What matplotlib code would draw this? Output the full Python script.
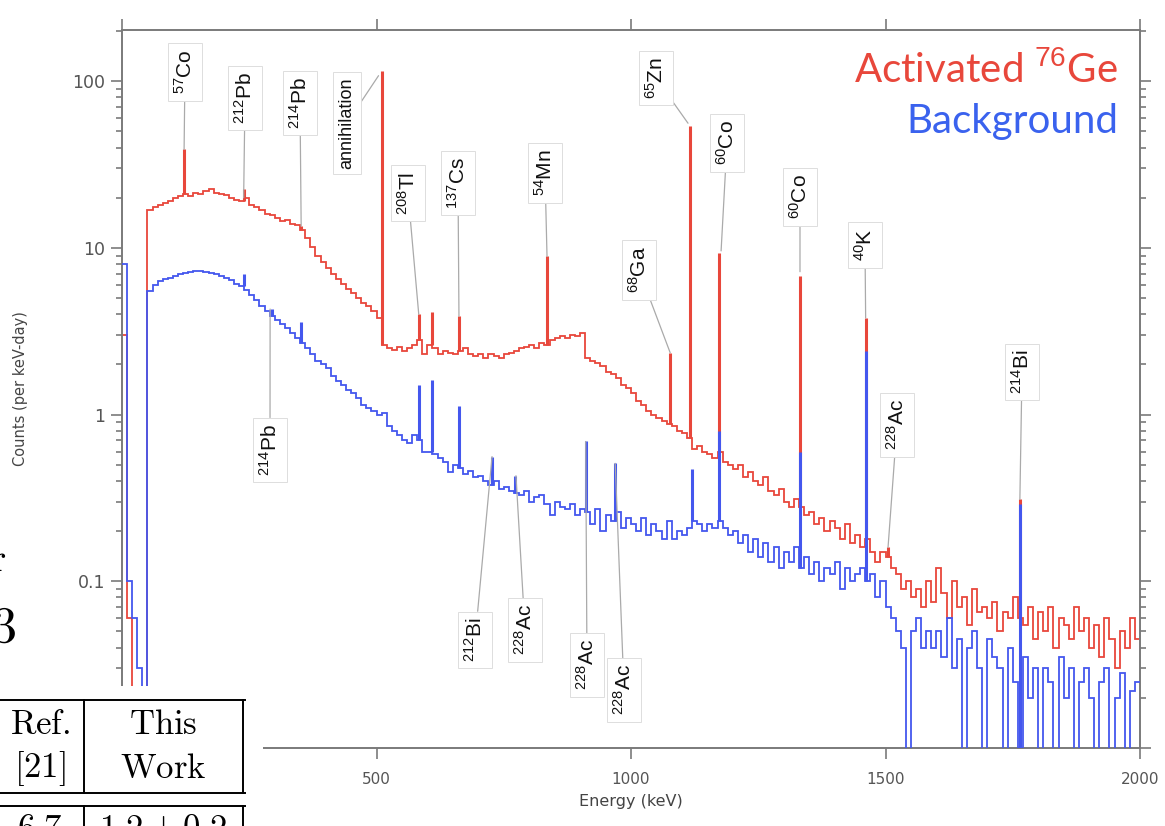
import numpy as np
import matplotlib.pyplot as plt
from matplotlib.ticker import FixedLocator, LogLocator, NullFormatter, FuncFormatter

plt.rcParams['mathtext.fontset'] = 'custom'
plt.rcParams['mathtext.rm'] = 'Liberation Sans'
plt.rcParams['mathtext.it'] = 'Liberation Sans'

# 10 keV bins, bin starts 0 ... 1990
edges = np.arange(0, 2010, 10)

# continuum, activated 76Ge (counts per keV-day)
activated = [
    3.0, 0.06, 0, 0, 0, 17.0, 17.5, 18.0, 18.5, 19.0,
    19.8, 20.5, 21.0, 20.5, 21.5, 21.0, 22.0, 22.5, 21.5, 21.0,
    20.8, 20.0, 19.5, 19.2, 19.8, 18.0, 17.5, 16.8, 16.0, 15.8,
    15.2, 14.5, 14.8, 14.0, 13.8, 12.8, 11.5, 10.2, 9.0, 8.2,
    7.6, 7.0, 6.5, 6.1, 5.7, 5.4, 5.0, 4.7, 4.5, 4.2,
    3.8, 2.6, 2.5, 2.45, 2.55, 2.4, 2.5, 2.6, 2.8, 2.3,
    2.6, 2.5, 2.3, 2.4, 2.35, 2.3, 2.4, 2.5, 2.3, 2.25,
    2.3, 2.2, 2.3, 2.25, 2.2, 2.3, 2.35, 2.4, 2.5, 2.55,
    2.6, 2.5, 2.7, 2.6, 2.8, 2.9, 2.95, 2.9, 3.0, 2.95,
    3.1, 2.2, 2.1, 2.05, 1.95, 1.8, 1.75, 1.65, 1.5, 1.45,
    1.35, 1.2, 1.15, 1.05, 1.0, 0.95, 0.92, 0.88, 0.85, 0.8,
    0.78, 0.72, 0.62, 0.65, 0.6, 0.58, 0.55, 0.6, 0.52, 0.5,
    0.47, 0.5, 0.42, 0.45, 0.4, 0.38, 0.42, 0.35, 0.33, 0.36,
    0.3, 0.28, 0.31, 0.28, 0.25, 0.26, 0.22, 0.24, 0.2, 0.23,
    0.21, 0.18, 0.22, 0.17, 0.19, 0.16, 0.18, 0.15, 0.13, 0.15,
    0.14, 0.12, 0.11, 0.09, 0.1, 0.08, 0.09, 0.07, 0.1, 0.075,
    0.12, 0.085, 0.06, 0.1, 0.07, 0.08, 0.055, 0.09, 0.065, 0.07,
    0.06, 0.075, 0.05, 0.065, 0.06, 0.08, 0.06, 0.055, 0.07, 0.045,
    0.065, 0.05, 0.07, 0.04, 0.06, 0.055, 0.045, 0.07, 0.05, 0.06,
    0.04, 0.055, 0.035, 0.06, 0.045, 0.03, 0.05, 0.04, 0.06, 0.045,
]

# continuum, background
background = [
    8.0, 0.1, 0.06, 0.03, 0, 5.5, 6.0, 6.3, 6.5, 6.6,
    6.8, 7.0, 7.1, 7.2, 7.3, 7.3, 7.2, 7.1, 7.0, 6.8,
    6.6, 6.4, 6.1, 5.9, 5.6, 5.2, 4.9, 4.5, 4.2, 3.9,
    3.7, 3.5, 3.3, 3.1, 2.9, 2.7, 2.5, 2.3, 2.1, 2.0,
    1.9, 1.7, 1.6, 1.5, 1.4, 1.35, 1.25, 1.15, 1.1, 1.05,
    1.0, 1.02, 0.85, 0.8, 0.75, 0.7, 0.68, 0.75, 0.7, 0.6,
    0.6, 0.58, 0.55, 0.52, 0.45, 0.5, 0.48, 0.44, 0.46, 0.42,
    0.43, 0.4, 0.38, 0.4, 0.36, 0.37, 0.35, 0.34, 0.33, 0.35,
    0.3, 0.32, 0.33, 0.29, 0.25, 0.3, 0.28, 0.27, 0.29, 0.25,
    0.27, 0.26, 0.22, 0.27, 0.2, 0.25, 0.23, 0.26, 0.21, 0.24,
    0.22, 0.2, 0.24, 0.19, 0.22, 0.2, 0.18, 0.23, 0.18, 0.2,
    0.19, 0.21, 0.23, 0.22, 0.2, 0.22, 0.21, 0.23, 0.21, 0.19,
    0.2, 0.17, 0.19, 0.15, 0.18, 0.14, 0.17, 0.13, 0.16, 0.12,
    0.15, 0.13, 0.16, 0.12, 0.14, 0.11, 0.13, 0.1, 0.12, 0.11,
    0.13, 0.09, 0.12, 0.1, 0.11, 0.12, 0.1, 0.11, 0.08, 0.1,
    0.07, 0.06, 0.05, 0.04, 0, 0.05, 0.06, 0.04, 0.05, 0.04,
    0.05, 0.035, 0.06, 0.03, 0.045, 0, 0.04, 0.05, 0.03, 0,
    0.045, 0.035, 0.03, 0, 0.04, 0.025, 0, 0.035, 0.02, 0.03,
    0, 0.03, 0.025, 0, 0.035, 0.02, 0.03, 0, 0.025, 0.03,
    0.02, 0, 0.025, 0.03, 0, 0.02, 0.028, 0, 0.022, 0.025,
]

# narrow lines on top of the continuum: energy (keV), peak height
act_peak_e = [122, 239, 352, 511, 583, 609, 662, 835, 1077, 1115, 1173, 1332, 1461, 1505, 1764]
act_peak_h = [39, 22.5, 13.5, 116, 4.0, 4.1, 3.9, 8.9, 2.35, 54, 9.3, 6.8, 3.8, 0.16, 0.31]
bkg_peak_e = [239, 295, 352, 583, 609, 662, 727, 772, 911, 969, 1120, 1173, 1332, 1461, 1764]
bkg_peak_h = [7.0, 4.3, 3.6, 1.5, 1.62, 1.12, 0.56, 0.43, 0.69, 0.51, 0.47, 0.8, 0.6, 2.4, 0.29]

# line labels: mass number, element, tagged energy, tagged height
lbl_mass = ['57', '212', '214', '', '208', '137', '54', '65', '60', '68', '60', '40', '228', '214',
            '214', '212', '228', '228', '228']
lbl_elem = ['Co', 'Pb', 'Pb', 'annihilation', 'Tl', 'Cs', 'Mn', 'Zn', 'Co', 'Ga', 'Co', 'K', 'Ac', 'Bi',
            'Pb', 'Bi', 'Ac', 'Ac', 'Ac']
lbl_e = [122, 239, 352, 504, 583, 662, 835, 1112, 1177, 1077, 1332, 1461, 1505, 1764,
         291, 727, 774, 911, 969]
lbl_v = [39, 20, 13.5, 108, 4.0, 3.9, 8.9, 56, 9.6, 2.35, 7.2, 3.8, 0.16, 0.31,
         4.3, 0.56, 0.43, 0.69, 0.51]
# box centres in pixels of the page (x from left, y from top)
lbl_px = [(185, 72), (245, 98), (300, 103), (347, 123), (408, 193), (458, 183), (545, 173),
          (656, 78), (727, 143), (639, 270), (800, 197), (865, 245), (897, 425), (1022, 372),
          (270, 450), (475, 640), (525, 630), (587, 665), (624, 690)]

table_head = [('Ref.', '[21]'), ('This', 'Work')]
table_row = ['6.7', r'1.2\pm0.2']

red = '#e8473b'
blue = '#4457ee'
grey = '#7a7a7a'
W, H = 1165, 826

fig = plt.figure(figsize=(W / 100, H / 100), dpi=100)
ax = fig.add_axes([122 / W, 78 / H, 1018 / W, 718 / H])
ax.set_yscale('log')

ax.stairs(activated, edges, baseline=None, color=red, lw=1.3, zorder=2)
base = [activated[int(e // 10)] for e in act_peak_e]
ax.vlines(act_peak_e, base, act_peak_h, color=red, lw=2.2, zorder=2)

ax.stairs(background, edges, baseline=None, color=blue, lw=1.3, zorder=3)
base = [background[int(e // 10)] for e in bkg_peak_e]
ax.vlines(bkg_peak_e, base, bkg_peak_h, color=blue, lw=2.2, zorder=3)

ax.set_xlim(0, 2000)
ax.set_ylim(0.01, 203)

for s in ax.spines.values():
    s.set_color(grey)
    s.set_linewidth(1.4)
ax.xaxis.set_major_locator(FixedLocator([0, 500, 1000, 1500, 2000]))
ax.set_xticklabels(['', '500', '1000', '1500', '2000'])
ax.yaxis.set_major_locator(FixedLocator([0.01, 0.1, 1, 10, 100]))
ax.yaxis.set_minor_locator(LogLocator(base=10, subs=np.arange(2, 10)))
ax.yaxis.set_minor_formatter(NullFormatter())
ax.yaxis.set_major_formatter(FuncFormatter(lambda v, p: '' if v < 0.05 else f'{v:g}'))
ax.tick_params(which='both', direction='out', top=True, right=True, color=grey, width=1.2,
               labelcolor='#555555')
ax.tick_params(which='major', length=8)
ax.tick_params(which='minor', length=4)
ax.tick_params(axis='x', labelsize=11, pad=9)
ax.tick_params(axis='y', labelsize=12.5, pad=4)
ax.set_xlabel('Energy (keV)', fontsize=11.5, color='#444444', labelpad=5)
ax.set_ylabel('Counts (per keV-day)', fontsize=10.5, color='#444444', labelpad=32)

for m, el, e, v, (px, py) in zip(lbl_mass, lbl_elem, lbl_e, lbl_v, lbl_px):
    txt = el if m == '' else r'$^{%s}$%s' % (m, el)
    ax.annotate(txt, xy=(e, v), xytext=(px, H - py), textcoords='figure pixels',
                rotation=90, ha='center', va='center', fontsize=15 if m else 13,
                family='Liberation Sans', color='#111111', zorder=5,
                bbox=dict(boxstyle='square,pad=0.3', fc='white', ec='#dddddd', lw=0.7),
                arrowprops=dict(arrowstyle='-', color='#aaaaaa', lw=0.9, shrinkA=0, shrinkB=0))

fig.text(1118 / W, 1 - 70 / H, r'Activated $^{76}$Ge', color=red, fontsize=29,
         family='Lato', ha='right', va='center')
fig.text(1118 / W, 1 - 122 / H, 'Background', color='#3a62ee', fontsize=29,
         family='Lato', ha='right', va='center')

# page content overlapping the figure: cut table at the bottom left
tab = fig.add_axes([0, 0, 263 / W, 140 / H], zorder=10)
tab.set_xlim(0, 263)
tab.set_ylim(826, 686)
tab.set_xticks([])
tab.set_yticks([])
for s in tab.spines.values():
    s.set_visible(False)
tab.set_facecolor('white')
tab.plot([0, 245], [700, 700], color='black', lw=1.4)
tab.plot([0, 245], [793, 793], color='black', lw=1.4)
tab.plot([0, 245], [806, 806], color='black', lw=1.4)
for x in [84, 243]:
    tab.plot([x, x], [700, 793], color='black', lw=1.4)
    tab.plot([x, x], [806, 830], color='black', lw=1.4)
for cx, (t1, t2) in zip([40, 163], table_head):
    tab.text(cx, 724, r'$\mathrm{%s}$' % t1, ha='center', va='center', fontsize=25,
             math_fontfamily='cm')
    tab.text(cx, 768, r'$\mathrm{%s}$' % t2, ha='center', va='center', fontsize=25,
             math_fontfamily='cm')
for cx, t in zip([40, 163], table_row):
    tab.text(cx, 812, r'$\mathrm{%s}$' % t, ha='center', va='top', fontsize=25,
             math_fontfamily='cm')

fig.text(-0.008, 1 - 628 / H, r'$\mathbf{3}$', fontsize=36, math_fontfamily='cm',
         va='center', ha='left')
fig.text(-0.009, 1 - 560 / H, r'$\mathrm{r}$', fontsize=28, math_fontfamily='cm',
         va='center', ha='left')

fig.savefig('out.png', dpi=100)
